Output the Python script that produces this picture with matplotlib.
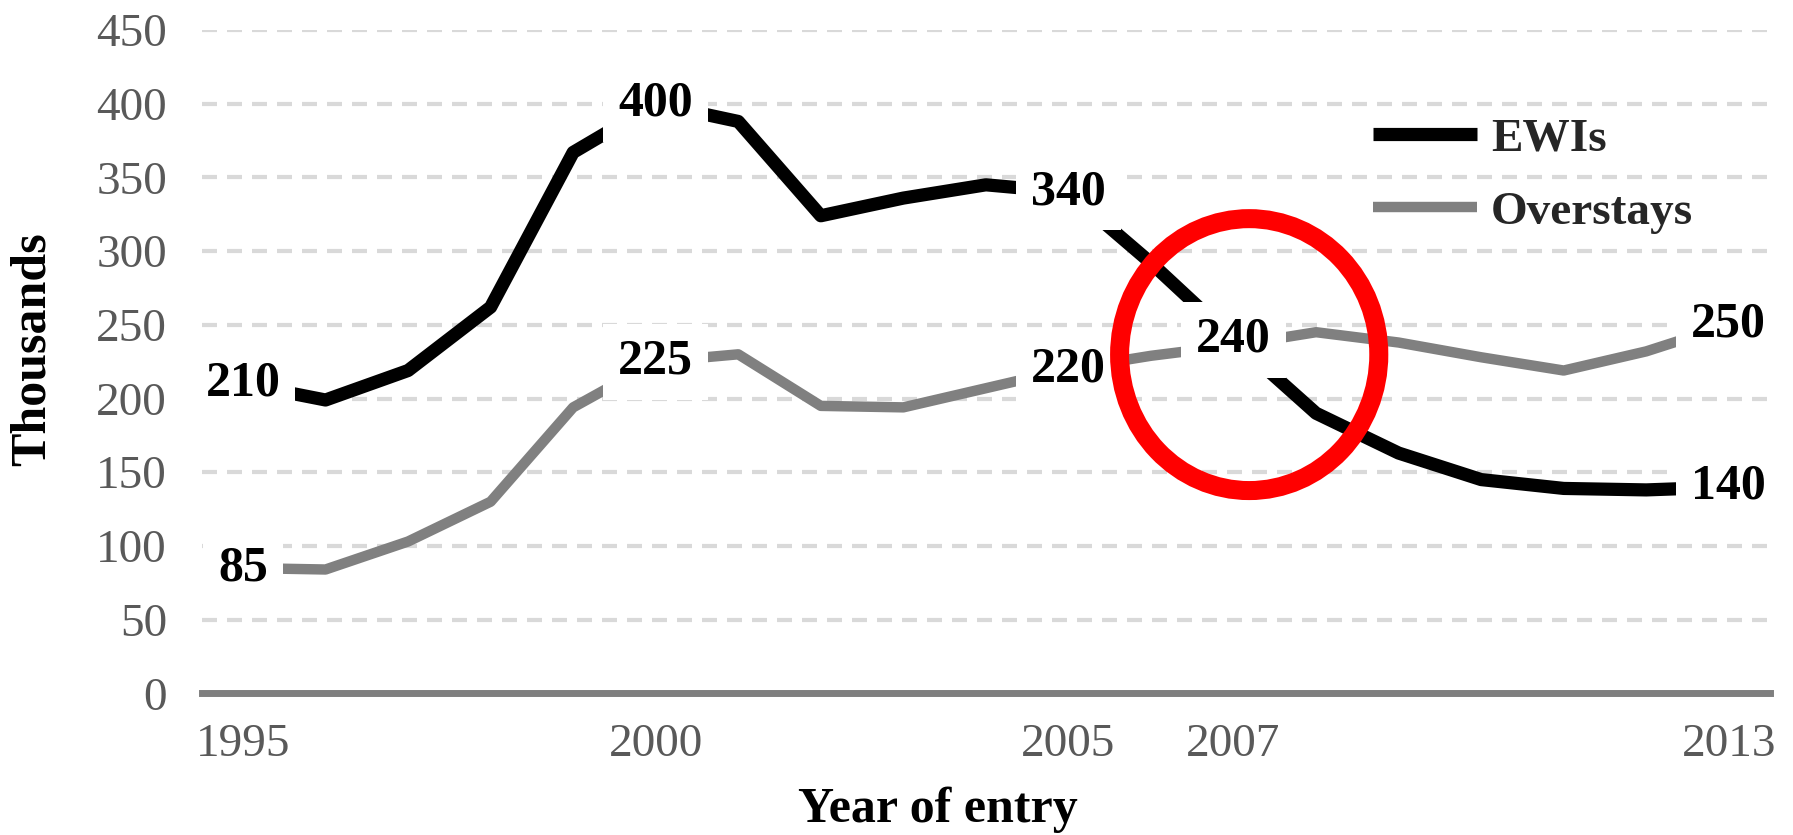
import matplotlib
matplotlib.use('Agg')
import matplotlib.pyplot as plt
from matplotlib.patches import Ellipse

years = list(range(1995, 2014))
ewis = [210, 199, 219, 262, 367, 400, 388, 324, 336, 345, 340, 292, 240, 190, 163, 145, 139, 138, 140]
overstays = [85, 84, 103, 130, 194, 225, 230, 195, 194, 207, 220, 229, 236, 245, 238, 228, 219, 232, 250]

# which points get a value label
ewi_labels = [1995, 2000, 2005, 2007, 2013]
over_labels = [1995, 2000, 2005, 2013]
tick_years = [1995, 2000, 2005, 2007, 2013]

# highlight ring around the 2007 crossing
ring_center = (2007.19, 229.8)
ring_size = (3.14, 184.5)

plt.rcParams['font.family'] = ['Liberation Serif', 'DejaVu Serif']

fig = plt.figure(figsize=(17.93, 8.35), dpi=100)
ax = fig.add_axes([0.1125, 0.1697, 0.8747, 0.7943])

ax.plot(years, ewis, color='black', lw=9.5, solid_joinstyle='round', solid_capstyle='butt', zorder=3, label='EWIs')
ax.plot(years, overstays, color='#808080', lw=7.5, solid_joinstyle='round', solid_capstyle='butt', zorder=2, label='Overstays')

box = dict(boxstyle='square,pad=0.3', fc='white', ec='none')
for yr in over_labels:
    v = overstays[years.index(yr)]
    ax.text(yr, v, str(v), ha='center', va='center', fontsize=36, fontweight='bold', bbox=box, zorder=4)
for yr in ewi_labels:
    v = ewis[years.index(yr)]
    ax.text(yr, v, str(v), ha='center', va='center', fontsize=36, fontweight='bold', bbox=box, zorder=5)

ax.add_patch(Ellipse(ring_center, ring_size[0], ring_size[1], fill=False, ec='#ff0000', lw=13.7, zorder=6))

ax.set_xlim(1994.5, 2013.5)
ax.set_ylim(0, 450)
ax.set_yticks(range(0, 451, 50))
ax.set_xticks(tick_years)
ax.tick_params(axis='both', length=0, labelsize=34, labelcolor='#595959')
ax.tick_params(axis='y', pad=25)
ax.tick_params(axis='x', pad=22)

lw_grid = 3
ax.yaxis.grid(True, color='#d9d9d9', lw=lw_grid, linestyle=(0, (10.8 / lw_grid, 7.2 / lw_grid)))
ax.set_axisbelow(True)
for s in ['top', 'right', 'left']:
    ax.spines[s].set_visible(False)
ax.spines['bottom'].set_color('#7f7f7f')
ax.spines['bottom'].set_linewidth(5)
ax.spines['bottom'].set_zorder(1)

leg = ax.legend(loc='upper left', bbox_to_anchor=(0.7657, 0.859), bbox_transform=fig.transFigure,
                frameon=False, borderpad=0, borderaxespad=0, handlelength=2.2, handletextpad=0.3,
                labelspacing=0.63, prop={'size': 34, 'weight': 'bold'})
for t in leg.get_texts():
    t.set_color('#262626')

fig.text(0.523, 0.0304, 'Year of entry', ha='center', va='center', fontsize=36, fontweight='bold')
fig.text(0.0181, 0.582, 'Thousands', ha='center', va='center', rotation=90, fontsize=36, fontweight='bold')

fig.savefig('out.png', dpi=100)
